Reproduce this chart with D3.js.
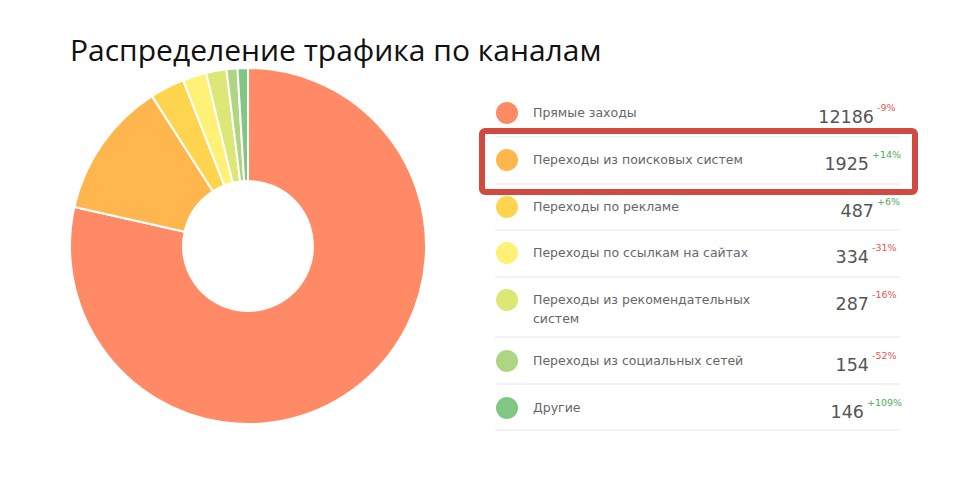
<!DOCTYPE html>
<html><head><meta charset="utf-8">
<script src="https://cdn.jsdelivr.net/npm/d3@7"></script>
<style>body{margin:0;background:#fff}</style></head>
<body><svg id="c" width="971" height="477"></svg>
<script>
const labels = ["Прямые заходы","Переходы из поисковых систем","Переходы по рекламе","Переходы по ссылкам на сайтах","Переходы из рекомендательных|систем","Переходы из социальных сетей","Другие"];
const values = [12186,1925,487,334,287,154,146];
const changes = ["-9%","+14%","+6%","-31%","-16%","-52%","+109%"];
const colors = ["#ff8a65","#ffb74d","#ffd54f","#fff176","#dce775","#aed581","#81c784"];
const rowY = [113,160,207,253,300,361,408];
const sepY = [137,184,230,277,337,384,430];

const svg = d3.select("#c");
svg.append("text").attr("x",70).attr("y",61).attr("font-family","Open Sans").attr("font-size",30).attr("fill","#111").text("Распределение трафика по каналам");

const pie = d3.pie().sort(null).value(d=>d)(values);
const arc = d3.arc().innerRadius(65).outerRadius(178);
svg.append("g").attr("transform","translate(248,246)").selectAll("path").data(pie).join("path")
  .attr("d",arc).attr("fill",(d,i)=>colors[i]).attr("stroke","#fff").attr("stroke-width",2);

const g = svg.append("g");
sepY.forEach(y=>g.append("line").attr("x1",495).attr("x2",900).attr("y1",y).attr("y2",y).attr("stroke","#e6e6e6"));
labels.forEach((l,i)=>{
  const y=rowY[i];
  g.append("circle").attr("cx",507).attr("cy",y).attr("r",11).attr("fill",colors[i]);
  const t=g.append("text").attr("x",533).attr("y",y+4).attr("font-family","DejaVu Sans").attr("font-size",12.5).attr("fill","#666");
  l.split("|").forEach((p,k)=>t.append("tspan").attr("x",533).attr("dy",k?19:0).text(p));
  const vx = 874 - (changes[i].length-3)*5;
  g.append("text").attr("x",vx).attr("y",y+10).attr("text-anchor","end").attr("font-family","DejaVu Sans").attr("font-size",17.5).attr("fill","#555").text(values[i]);
  g.append("text").attr("x",vx+3).attr("y",y-2).attr("font-family","DejaVu Sans").attr("font-size",9.5)
    .attr("fill",changes[i][0]==="+"?"#4caf50":"#ef5350").text(changes[i]);
});
svg.append("rect").attr("x",482).attr("y",131).attr("width",433).attr("height",61).attr("rx",3)
  .attr("fill","none").attr("stroke","#d14a3f").attr("stroke-width",6);
</script></body></html>
